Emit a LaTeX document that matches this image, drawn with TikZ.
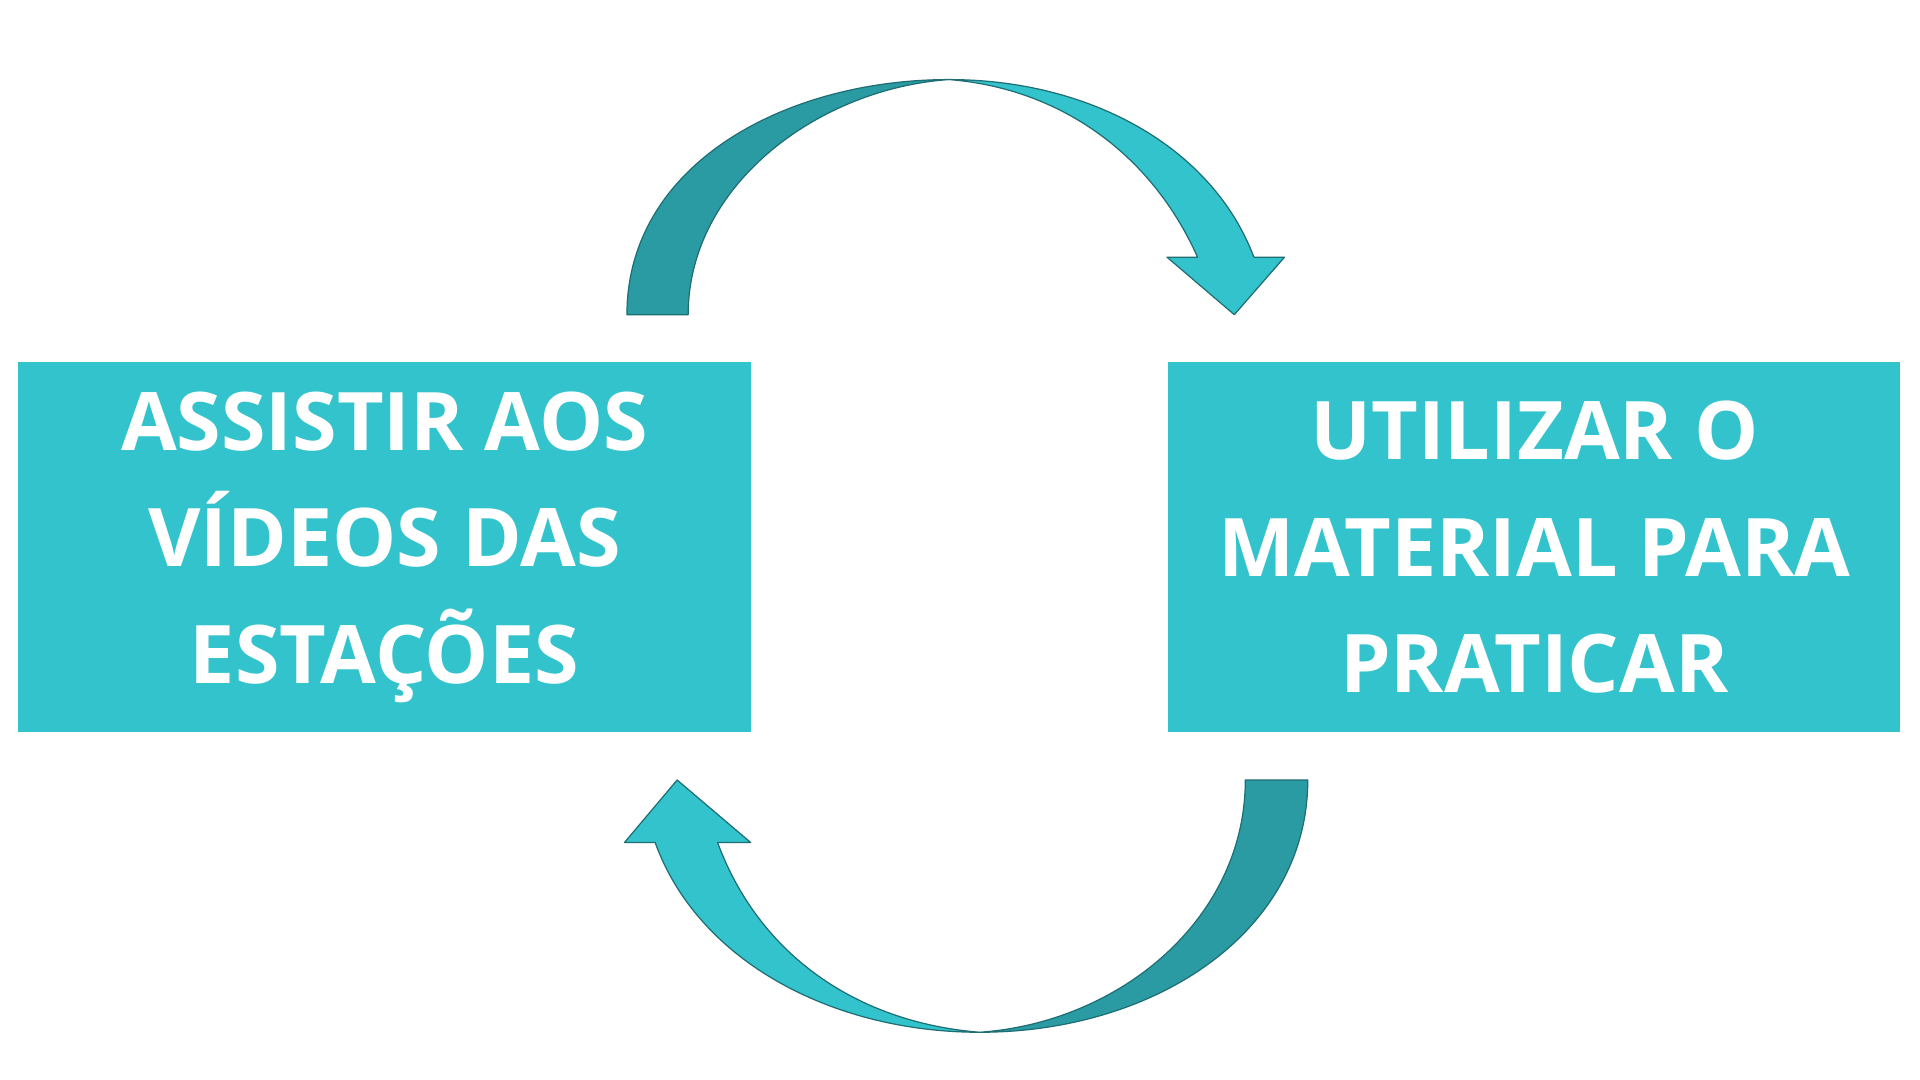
\documentclass[tikz,border=0pt]{standalone}
\usepackage{fontspec}
\setmainfont{Open Sans}
\definecolor{tlight}{HTML}{33C3CC}
\definecolor{tdark}{HTML}{2A9BA3}
\definecolor{tline}{HTML}{1E6E74}
\begin{document}
\begin{tikzpicture}[x=1pt,y=-1pt,
  box/.style={fill=tlight,draw=none,text=white,font=\fontsize{66}{95}\selectfont\bfseries,align=center,inner sep=0pt},
  ribbon/.style={draw=tline,line width=1pt,line join=round}]
\useasboundingbox[fill=white] (0,0) rectangle (1568,882);
\fill[tlight] (15,296) rectangle (613,598);
\fill[tlight] (954,296) rectangle (1552,598);
\node[box] (a) at (314,447) {ASSISTIR AOS\\VÍDEOS DAS\\ESTAÇÕES};
\node[box] (b) at (1253,447) {UTILIZAR O\\MATERIAL PARA\\PRATICAR};
% top arrow
\filldraw[ribbon,fill=tdark] (512,257) .. controls (512,135) and (640,65) .. (775,65) .. controls (670,72) and (562,150) .. (562,257) -- cycle;
\filldraw[ribbon,fill=tlight] (775,65) .. controls (890,65) and (990,120) .. (1024,210) -- (1049,210) -- (1008,257) -- (953,210) -- (978,210) .. controls (940,125) and (865,72) .. (775,65) -- cycle;
% bottom arrow
\filldraw[ribbon,fill=tdark] (1068,637) .. controls (1068,760) and (945,843) .. (800,843) .. controls (915,835) and (1017,750) .. (1017,637) -- cycle;
\filldraw[ribbon,fill=tlight] (800,843) .. controls (680,843) and (570,785) .. (535,688) -- (510,688) -- (553,637) -- (613,688) -- (586,688) .. controls (620,780) and (700,835) .. (800,843) -- cycle;
\end{tikzpicture}
\end{document}
